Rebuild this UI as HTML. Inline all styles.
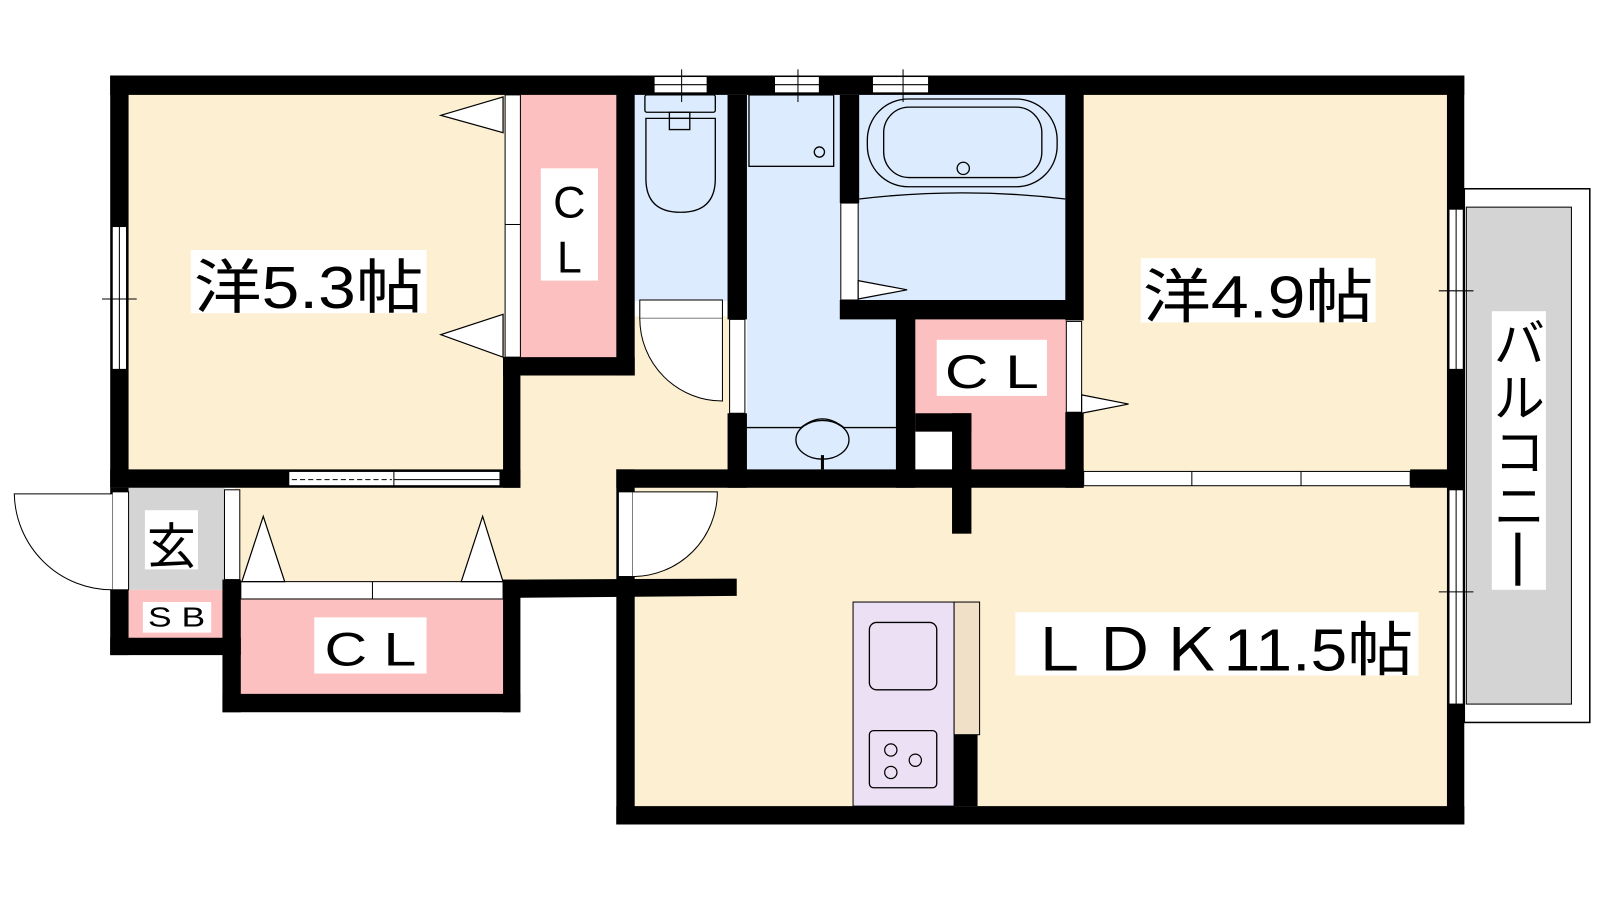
<!DOCTYPE html>
<html><head><meta charset="utf-8"><style>html,body{margin:0;padding:0;background:#fff}svg{display:block}</style></head><body>
<svg width="1600" height="900" viewBox="0 0 1568 882" xmlns="http://www.w3.org/2000/svg" font-family="Liberation Sans, Noto Sans CJK JP, sans-serif">
<!-- floors -->
<rect x="126" y="92" width="370" height="372" fill="#fdf0d2"/>
<rect x="1060" y="92" width="360" height="372" fill="#fdf0d2"/>
<rect x="620" y="476" width="800" height="316" fill="#fdf0d2"/>
<rect x="505" y="310" width="210" height="260" fill="#fdf0d2"/>
<rect x="230" y="476" width="380" height="94" fill="#fdf0d2"/>
<rect x="622" y="93" width="92" height="202" fill="#dcebfd"/>
<rect x="732" y="93" width="150" height="368" fill="#dcebfd"/>
<rect x="842" y="93" width="204" height="202" fill="#dcebfd"/>
<rect x="510" y="92" width="96" height="260" fill="#fdc0c0"/>
<rect x="896" y="312" width="150" height="150" fill="#fdc0c0"/>
<rect x="897" y="423" width="36" height="37" fill="#fff"/>
<rect x="236" y="586" width="258" height="96" fill="#fdc0c0"/>
<rect x="126" y="578" width="94" height="48" fill="#fdc0c0"/>
<rect x="126" y="478" width="94" height="100" fill="#d4d4d4"/>
<!-- balcony -->
<rect x="1435" y="185" width="123" height="523" fill="#fff" stroke="#000" stroke-width="1.5"/>
<rect x="1437" y="203" width="103" height="487" fill="#d4d4d4" stroke="#000" stroke-width="1"/>
<!-- walls -->
<g fill="#000">
<rect x="108" y="74" width="1327" height="19"/>
<rect x="108" y="74" width="18" height="404"/>
<rect x="108" y="460" width="402" height="18"/>
<rect x="493" y="350" width="17" height="128"/>
<rect x="493" y="350" width="129" height="18"/>
<rect x="604" y="74" width="18" height="294"/>
<rect x="713" y="93" width="19" height="220"/>
<rect x="713" y="405" width="19" height="73"/>
<rect x="823" y="93" width="19" height="106"/>
<rect x="823" y="294" width="237" height="19"/>
<rect x="1044" y="74" width="18" height="240"/>
<rect x="1044" y="404" width="18" height="74"/>
<rect x="878" y="294" width="19" height="184"/>
<rect x="897" y="405" width="55" height="18"/>
<rect x="933" y="405" width="19" height="118"/>
<rect x="604" y="460" width="458" height="18"/>
<rect x="1382" y="460" width="53" height="18"/>
<rect x="1418" y="74" width="17" height="734"/>
<rect x="604" y="460" width="18" height="348"/>
<rect x="604" y="790" width="831" height="18"/>
<rect x="108" y="478" width="18" height="164"/>
<rect x="108" y="625" width="128" height="17"/>
<rect x="218" y="568" width="18" height="130"/>
<rect x="218" y="680" width="292" height="18"/>
<rect x="493" y="568" width="17" height="130"/>
<polygon points="493,568 722,567 722,584 493,586"/>
<rect x="935" y="720" width="23" height="70"/>
</g>
<!-- windows/openings -->
<g fill="#fff" stroke="#000" stroke-width="1">
<rect x="641" y="75" width="52" height="16"/><rect x="759" y="75" width="44" height="16"/><rect x="855" y="75" width="55" height="16"/>
<rect x="110" y="222" width="14" height="140"/>
<rect x="1420" y="205" width="14" height="157"/>
<rect x="1420" y="480" width="14" height="210"/>
<rect x="1062" y="462" width="320" height="14"/>
<rect x="283" y="462" width="207" height="14"/>
<rect x="627" y="294" width="81" height="18"/>
<rect x="715" y="313" width="15" height="92"/>
<rect x="824" y="199" width="17" height="95"/>
<rect x="1045" y="315" width="15" height="89"/>
<rect x="495" y="93" width="15" height="257"/>
<rect x="220" y="480" width="15" height="88"/>
<rect x="236" y="570" width="257" height="17"/>
<rect x="110" y="482" width="16" height="96"/>
<rect x="606" y="482" width="14" height="83"/>
</g>
<g stroke="#000" stroke-width="1" fill="none">
<line x1="641" y1="83" x2="693" y2="83"/><line x1="759" y1="83" x2="803" y2="83"/><line x1="855" y1="83" x2="910" y2="83"/>
<line x1="668" y1="68" x2="668" y2="100"/><line x1="782" y1="68" x2="782" y2="100"/><line x1="885" y1="68" x2="885" y2="100"/>
<line x1="117" y1="222" x2="117" y2="362"/><line x1="100" y1="293" x2="134" y2="293"/>
<line x1="1427" y1="205" x2="1427" y2="362"/><line x1="1410" y1="285" x2="1444" y2="285"/>
<line x1="1427" y1="480" x2="1427" y2="690"/><line x1="1410" y1="580" x2="1444" y2="580"/>
<line x1="1168" y1="462" x2="1168" y2="476"/><line x1="1275" y1="462" x2="1275" y2="476"/>
<line x1="386" y1="462" x2="386" y2="476"/><line x1="386" y1="470" x2="490" y2="470"/>
<line x1="286" y1="470" x2="384" y2="470" stroke-dasharray="5,3"/>
<line x1="495" y1="220" x2="510" y2="220"/><line x1="365" y1="570" x2="365" y2="587"/>
<path d="M627,312 A81,81 0 0 0 708,393 L708,312" fill="#fff"/>
<path d="M110,578 A96,96 0 0 1 14,484 L110,484" fill="#fff"/>
<path d="M620,565 A83,83 0 0 0 703,482 L620,482" fill="#fff"/>
</g>
<g fill="#fff" stroke="#000" stroke-width="1.2">
<polygon points="493,95 432,113 493,130"/><polygon points="493,308 432,328 493,350"/>
<polygon points="237,570 258,506 279,570"/><polygon points="452,570 473,506 493,570"/>
<polygon points="841,275 889,284 841,293"/><polygon points="1060,387 1106,396 1060,405"/>
</g>
<!-- fixtures -->
<g fill="none" stroke="#000" stroke-width="1.3">
<rect x="632" y="93" width="69" height="17" rx="2"/>
<rect x="656" y="110" width="20" height="6"/>
<path d="M633,116 H701 V175 Q701,208 667,208 Q633,208 633,175 Z"/>
<path d="M656,116 V127 H676 V116"/>
<rect x="734" y="93" width="83" height="70"/>
<circle cx="803" cy="149" r="5"/>
<rect x="850" y="97" width="186" height="86" rx="40"/>
<rect x="866" y="105" width="155" height="69" rx="25"/>
<circle cx="944" cy="165" r="6"/>
<path d="M842,195 Q944,183 1044,195"/>
<line x1="732" y1="419" x2="878" y2="419"/>
<path d="M785,419 Q806,402 827,419"/>
<ellipse cx="806" cy="431" rx="26" ry="19" fill="#dcebfd"/>
<line x1="806" y1="446" x2="806" y2="460" stroke-width="3"/>
</g>
<!-- kitchen -->
<rect x="836" y="590" width="99" height="200" fill="#ece0f5" stroke="#000" stroke-width="1"/>
<rect x="935" y="590" width="25" height="130" fill="#f0e0c8" stroke="#000" stroke-width="1"/>
<rect x="852" y="610" width="66" height="66" rx="7" fill="#ece0f5" stroke="#000" stroke-width="1.3"/>
<rect x="852" y="716" width="66" height="56" rx="4" fill="#ece0f5" stroke="#000" stroke-width="1.3"/>
<g fill="none" stroke="#000" stroke-width="1.2"><circle cx="873" cy="735" r="6"/><circle cx="897" cy="745" r="6"/><circle cx="873" cy="757" r="6"/></g>
<!-- labels -->
<g fill="#fff">
<rect x="187" y="245" width="231" height="62"/><rect x="1118" y="253" width="230" height="63"/>
<rect x="995" y="600" width="395" height="62"/><rect x="530" y="165" width="56" height="110"/>
<rect x="918" y="333" width="108" height="55"/><rect x="308" y="605" width="110" height="55"/>
<rect x="142" y="500" width="52" height="58"/><rect x="140" y="590" width="67" height="30"/>
<rect x="1462" y="305" width="53" height="273"/>
</g>
<g fill="#000">
<text x="190" y="302" font-size="58" textLength="225" lengthAdjust="spacingAndGlyphs">洋5.3帖</text>
<text x="1120" y="311" font-size="58" textLength="226" lengthAdjust="spacingAndGlyphs">洋4.9帖</text>
<text x="1005" y="657" font-size="58" textLength="380" lengthAdjust="spacingAndGlyphs">ＬＤＫ11.5帖</text>
<text x="558" y="213" font-size="44" text-anchor="middle">C</text>
<text x="558" y="267" font-size="44" text-anchor="middle">L</text>
<text x="926" y="380" font-size="46" textLength="92" lengthAdjust="spacingAndGlyphs">C L</text>
<text x="318" y="652" font-size="46" textLength="90" lengthAdjust="spacingAndGlyphs">C L</text>
<text x="168" y="552" font-size="48" text-anchor="middle">玄</text>
<text x="145" y="614" font-size="27" textLength="56" lengthAdjust="spacingAndGlyphs">S B</text>
<text x="1489" y="355" font-size="50" text-anchor="middle">バ</text>
<text x="1489" y="408" font-size="50" text-anchor="middle">ル</text>
<text x="1489" y="461" font-size="50" text-anchor="middle">コ</text>
<text x="1489" y="514" font-size="50" text-anchor="middle">ニ</text>
<rect x="1485" y="522" width="5" height="52"/>
</g>
</svg>
</body></html>
